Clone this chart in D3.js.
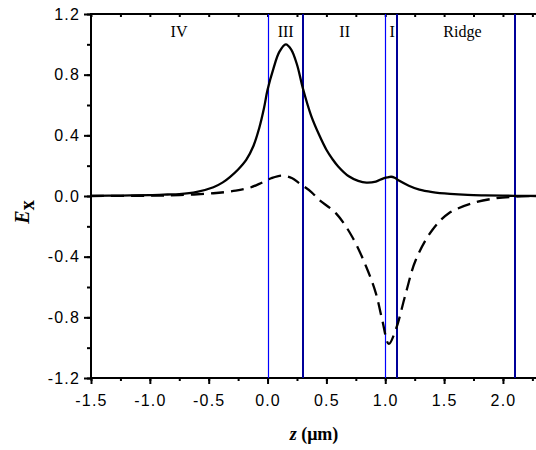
<!DOCTYPE html>
<html>
<head>
<meta charset="utf-8">
<script src="https://cdn.jsdelivr.net/npm/d3@7"></script>
<style>
  body { margin: 0; background: #fff; }
  svg { display: block; }
  .tick text { font-family: "Liberation Sans", Arial, sans-serif; font-size: 16px; letter-spacing: 1.2px; fill: #000; }
</style>
</head>
<body>
<div class="chart"></div>
<script>
// solid curve |Ex|
const zSolid = [-1.5, -1.25, -1.0, -0.85, -0.75, -0.6, -0.46, -0.38, -0.32, -0.25, -0.18, -0.12, -0.07, -0.03, 0,
    0.05, 0.1, 0.155, 0.2, 0.25, 0.3, 0.37, 0.44, 0.5, 0.55, 0.6, 0.69, 0.77, 0.84, 0.92, 0.98, 1.02, 1.05,
    1.08, 1.12, 1.2, 1.29, 1.4, 1.55, 1.7, 1.85, 2.0, 2.15, 2.3];
const exSolid = [0.001, 0.003, 0.006, 0.01, 0.013, 0.028, 0.058, 0.09, 0.125, 0.175, 0.24, 0.33, 0.45, 0.58, 0.70,
    0.84, 0.95, 1.0, 0.967, 0.867, 0.71, 0.53, 0.40, 0.305, 0.245, 0.195, 0.13, 0.1, 0.088, 0.095, 0.115, 0.123, 0.127,
    0.12, 0.1, 0.068, 0.042, 0.026, 0.014, 0.007, 0.004, 0.002, 0.001, 0];

// dashed curve
const zDash = [-1.5, -1.0, -0.75, -0.46, -0.27, -0.15, -0.07, 0.03, 0.12, 0.21, 0.27, 0.37, 0.44, 0.58, 0.72, 0.84,
    0.92, 0.975, 1.03, 1.09, 1.175, 1.26, 1.40, 1.54, 1.74, 1.94, 2.1, 2.3];
const exDash = [0, 0.002, 0.006, 0.018, 0.035, 0.055, 0.08, 0.117, 0.135, 0.117, 0.084, 0.028, -0.026, -0.113, -0.27, -0.47,
    -0.64, -0.82, -0.975, -0.88, -0.64, -0.42, -0.224, -0.114, -0.048, -0.015, -0.005, 0];

const thinBounds = [0, 1.0];
const thickBounds = [0.3, 1.1, 2.1];
const regionNames = ["IV", "III", "II", "I", "Ridge"];
const regionCenters = [-0.752, 0.154, 0.655, 1.058, 1.656];

const xMajor = [-1.5, -1.0, -0.5, 0.0, 0.5, 1.0, 1.5, 2.0];
const yMajor = [-1.2, -0.8, -0.4, 0.0, 0.4, 0.8, 1.2];

let svgW = 536,
    svgH = 450,
    padLeft = 91,
    padTop = 14,
    padBottom = 378;

const x = d3.scaleLinear().domain([-1.5, 2.3]).range([padLeft, padLeft + 3.8 * 117.7]);
const y = d3.scaleLinear().domain([-1.2, 1.2]).range([padBottom, padTop]);

const svg = d3.select(".chart")
    .append("svg")
    .attr("width", svgW)
    .attr("height", svgH);

// minor ticks
const xMinor = d3.range(-1.5, 2.31, 0.25).map(v => +v.toFixed(2));
const yMinor = d3.range(-1.2, 1.21, 0.2).map(v => +v.toFixed(2));

svg.append("g")
    .attr("transform", `translate(0,${padBottom})`)
    .call(d3.axisBottom(x).tickValues(xMinor).tickSize(3).tickFormat(""));
svg.append("g")
    .attr("transform", `translate(0,${padBottom})`)
    .call(d3.axisBottom(x).tickValues(xMajor).tickSize(6).tickPadding(11).tickFormat(d => d.toFixed(1)));
svg.append("g")
    .attr("transform", `translate(${padLeft},0)`)
    .call(d3.axisLeft(y).tickValues(yMinor).tickSize(4).tickFormat(""));
svg.append("g")
    .attr("transform", `translate(${padLeft},0)`)
    .call(d3.axisLeft(y).tickValues(yMajor).tickSize(7).tickPadding(4).tickFormat(d => d.toFixed(1)));
svg.append("g")
    .attr("transform", `translate(0,${padTop})`)
    .call(d3.axisTop(x).tickValues(xMinor).tickSize(-3).tickFormat(""));

svg.selectAll(".domain").remove();
svg.selectAll(".tick line").attr("stroke", "#000").attr("stroke-width", 2);

// frame
svg.append("rect")
    .attr("x", padLeft)
    .attr("y", padTop)
    .attr("width", x(2.3) - padLeft)
    .attr("height", padBottom - padTop)
    .attr("fill", "none")
    .attr("stroke", "#000")
    .attr("stroke-width", 2);

// region boundaries
svg.selectAll("line.thin")
    .data(thinBounds)
    .enter()
    .append("line")
    .attr("class", "thin")
    .attr("x1", d => Math.round(x(d)) + 0.5).attr("x2", d => Math.round(x(d)) + 0.5)
    .attr("y1", padTop).attr("y2", padBottom)
    .attr("stroke", "#0000ff")
    .attr("stroke-width", 1.2);

svg.selectAll("line.thick")
    .data(thickBounds)
    .enter()
    .append("line")
    .attr("class", "thick")
    .attr("x1", d => Math.round(x(d))).attr("x2", d => Math.round(x(d)))
    .attr("y1", padTop).attr("y2", padBottom)
    .attr("stroke", "#00009a")
    .attr("stroke-width", 2);

// curves
const line = d3.line()
    .x(d => x(d[0]))
    .y(d => y(d[1]))
    .curve(d3.curveCatmullRom.alpha(0.5));

svg.append("path")
    .attr("d", line(d3.zip(zSolid, exSolid)))
    .attr("fill", "none")
    .attr("stroke", "#000")
    .attr("stroke-width", 2.3);

svg.append("path")
    .attr("d", line(d3.zip(zDash, exDash)))
    .attr("fill", "none")
    .attr("stroke", "#000")
    .attr("stroke-width", 2.3)
    .attr("stroke-dasharray", "13,7");

// region labels
svg.selectAll("text.region")
    .data(regionNames)
    .enter()
    .append("text")
    .attr("class", "region")
    .attr("x", (d, i) => x(regionCenters[i]))
    .attr("y", padTop + 23)
    .attr("text-anchor", "middle")
    .style("font-family", "'Liberation Serif', 'Times New Roman', serif")
    .style("font-size", "16px")
    .text(d => d);

// axis titles
const yTitle = svg.append("text")
    .attr("transform", "translate(29,212) rotate(-90)")
    .attr("text-anchor", "middle")
    .style("font-family", "'Liberation Serif', 'Times New Roman', serif")
    .style("font-weight", "bold")
    .style("font-size", "20px");
yTitle.append("tspan").style("font-style", "italic").text("E");
yTitle.append("tspan").attr("dy", 5).text("x");

const xTitle = svg.append("text")
    .attr("x", 314)
    .attr("y", 440)
    .attr("text-anchor", "middle")
    .style("font-family", "'Liberation Serif', 'Times New Roman', serif")
    .style("font-weight", "bold")
    .style("font-size", "18px");
xTitle.append("tspan").style("font-style", "italic").text("z");
xTitle.append("tspan").text(" (μm)");
</script>
</body>
</html>
